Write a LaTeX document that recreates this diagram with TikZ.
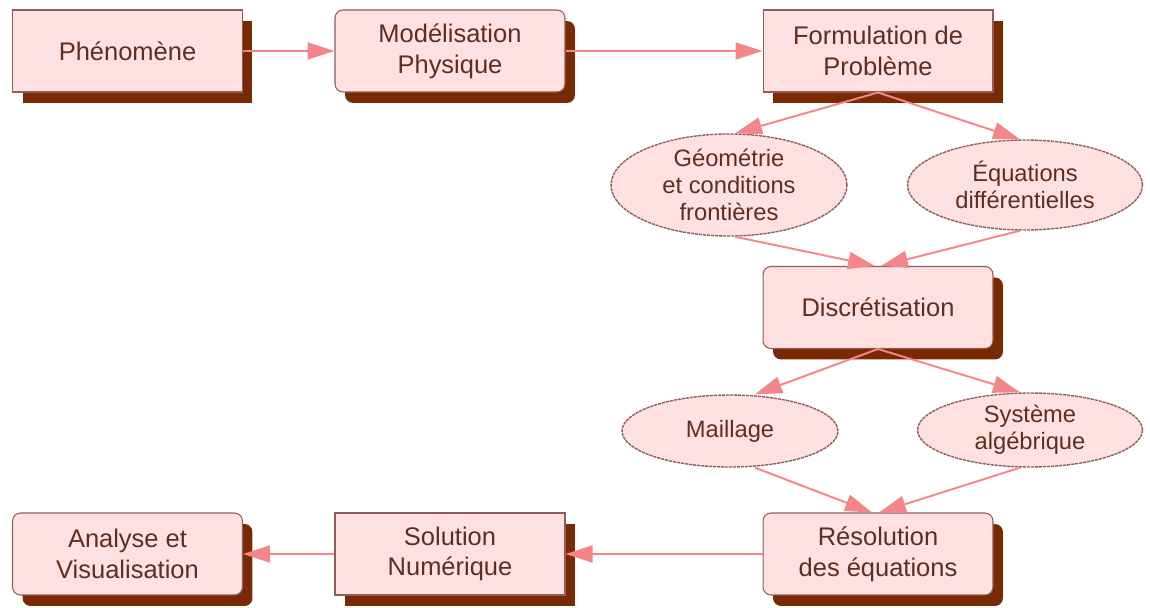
\documentclass[tikz,border=0pt]{standalone}
\usepackage{fontspec}
\setmainfont{Liberation Sans}
\usetikzlibrary{arrows.meta,shapes.geometric,shadows}
\definecolor{boxfill}{HTML}{FFE1E1}
\definecolor{boxline}{HTML}{8E5E5A}
\definecolor{shadowc}{HTML}{7A2A02}
\definecolor{txt}{HTML}{5E2E20}
\definecolor{arrowc}{HTML}{F4868A}
\tikzset{
  base/.style={fill=boxfill, draw=boxline, line width=0.6pt, text=txt, align=center,
    font=\fontsize{14.5}{17.5}\selectfont},
  sqbox/.style={base, minimum width=4.6cm, minimum height=1.64cm, inner sep=0pt,
    drop shadow={shadow xshift=0.2cm, shadow yshift=-0.22cm, fill=shadowc, opacity=1}},
  rbox/.style={sqbox, rounded corners=0.16cm},
  ell/.style={base, ellipse, inner sep=0pt, line width=0.8pt, dash pattern=on 1.8pt off 0.5pt,
    font=\fontsize{13.5}{15.5}\selectfont},
  arr/.style={draw=arrowc, line width=1.1pt, -{Triangle[length=0.54cm, width=0.34cm, fill=arrowc]}},
}
\begin{document}
\begin{tikzpicture}[x=0.02cm, y=-0.02cm]
\useasboundingbox (0,0) rectangle (1150,608);
\node[sqbox] (phen) at (127.5,51) {Phénomène};
\node[rbox] (model) at (450,51) {Modélisation\\Physique};
\node[sqbox] (form) at (878,51) {Formulation de\\Problème};
\node[ell, minimum width=4.72cm, minimum height=1.8cm] (geo) at (729,185) {Géométrie\\et conditions\\frontières};
\node[ell, minimum width=4.7cm, minimum height=1.8cm] (equ) at (1025,185) {Équations\\différentielles};
\node[rbox] (disc) at (878,307.5) {Discrétisation};
\node[ell, minimum width=4.32cm, minimum height=1.44cm] (mail) at (730,431) {Maillage};
\node[ell, minimum width=4.5cm, minimum height=1.48cm] (sys) at (1030,430) {Système\\algébrique};
\node[rbox] (reso) at (878,554) {Résolution\\des équations};
\node[sqbox] (sol) at (450,554) {Solution\\Numérique};
\node[rbox] (ana) at (127.5,554) {Analyse et\\Visualisation};

\draw[arr] (phen.east) -- (model.west);
\draw[arr] (model.east) -- (form.west);
\draw[arr] (form.south) -- ([xshift=0.12cm]geo.north);
\draw[arr] (form.south) -- ([xshift=-0.1cm]equ.north);
\draw[arr] ([xshift=0.12cm]geo.south) -- ([xshift=-0.06cm]disc.north);
\draw[arr] ([xshift=-0.1cm]equ.south) -- ([xshift=0.06cm]disc.north);
\draw[arr] (disc.south) -- ([xshift=0.5cm]mail.north);
\draw[arr] (disc.south) -- ([xshift=-0.2cm]sys.north);
\draw[arr] ([xshift=0.5cm]mail.south) -- ([xshift=-0.12cm]reso.north);
\draw[arr] ([xshift=-0.2cm]sys.south) -- ([xshift=0.02cm]reso.north);
\draw[arr] (reso.west) -- (sol.east);
\draw[arr] (sol.west) -- (ana.east);
\end{tikzpicture}
\end{document}
